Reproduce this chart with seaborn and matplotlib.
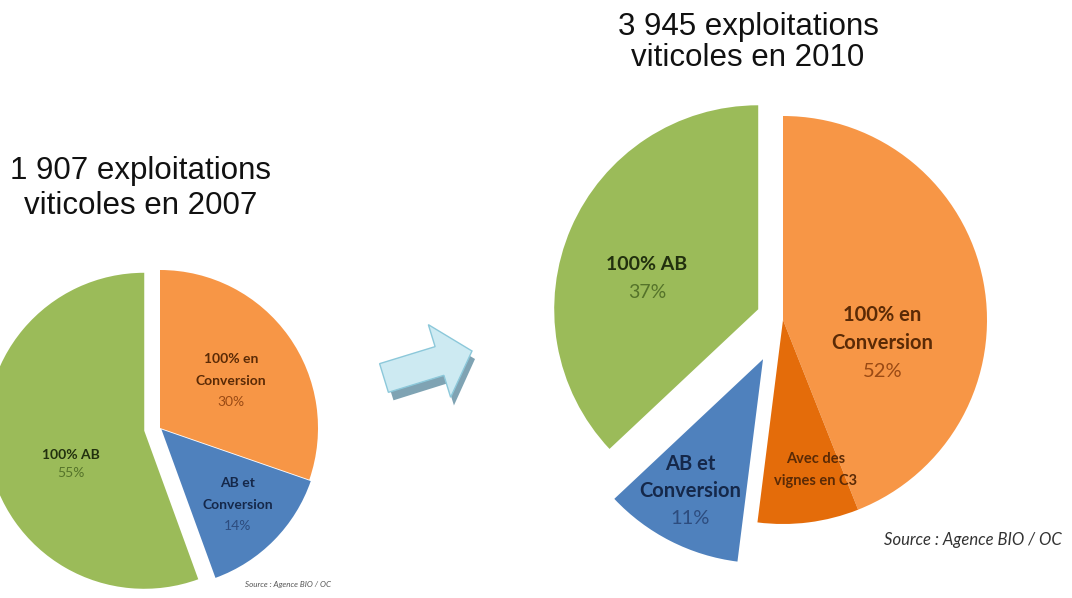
import matplotlib
matplotlib.use("Agg")
import matplotlib.pyplot as plt
import matplotlib.patches as mpatches
import matplotlib.transforms as mtransforms
import seaborn as sns
import numpy as np

# --- données ---
titre_2007 = ["1 907 exploitations", "viticoles en 2007"]
titre_2010 = ["3 945 exploitations", "viticoles en 2010"]
source = "Source : Agence BIO / OC"

# 2007, dans le sens horaire depuis le haut
parts_2007 = [30, 14, 55]
noms_2007 = ["100% en\nConversion", "AB et\nConversion", "100% AB"]
pct_2007 = ["30%", "14%", "55%"]

# 2010 : les 52% "en conversion" incluent la part C3
parts_2010 = [44, 8, 11, 37]
noms_2010 = ["100% en\nConversion", "Avec des\nvignes en C3", "AB et\nConversion", "100% AB"]
pct_2010 = ["52%", "", "11%", "37%"]

VERT, ORANGE, ORANGE_F, BLEU = "#9BBB59", "#F79646", "#E46C0A", "#4F81BD"

sns.set_theme(style="white")
plt.rcParams["font.family"] = ["Lato", "DejaVu Sans"]

W, H = 1072, 598
fig = plt.figure(figsize=(W / 100, H / 100), dpi=100)
ax = fig.add_axes([0, 0, 1, 1])


def y(v):
    # coordonnées image -> axe
    return H - v


def etiquette(ax, x0, y0, nom, pct, lh, fs, c_nom, c_pct):
    lignes = nom.split("\n") + ([pct] if pct else [])
    n = len(lignes)
    for i, l in enumerate(lignes):
        yy = y0 + ((n - 1) / 2 - i) * lh
        est_pct = bool(pct) and i == n - 1
        ax.text(x0, yy, l, ha="center", va="center", fontsize=fs,
                fontweight="normal" if est_pct else "bold",
                color=c_pct if est_pct else c_nom)


def pos(w, frac, decal=0.0):
    a = np.deg2rad((w.theta1 + w.theta2) / 2 + decal)
    cx, cy = w.center
    return cx + frac * w.r * np.cos(a), cy + frac * w.r * np.sin(a)


# --- camembert 2007 ---
w07, _ = ax.pie(parts_2007, colors=[ORANGE, BLEU, VERT], startangle=90,
                counterclock=False, center=(160, y(428)), radius=158,
                explode=[0, 2, 16], frame=True,
                wedgeprops=dict(linewidth=0))
# (couleur nom, couleur %, distance, décalage angulaire, interligne)
styles_07 = [("#5A2A06", "#9A4A14", 0.54, -2, 21.5),
             ("#15284A", "#2D4C7E", 0.68, 0, 21.5),
             ("#22300E", "#55732A", 0.51, 14, 18)]
for w, nom, p, (cn, cp, f, d, lh) in zip(w07, noms_2007, pct_2007, styles_07):
    x0, y0 = pos(w, f, d)
    etiquette(ax, x0, y0, nom, p, lh, 10, cn, cp)

# --- camembert 2010 ---
w10, _ = ax.pie(parts_2010, colors=[ORANGE, ORANGE_F, BLEU, VERT], startangle=90,
                counterclock=False, center=(783, y(320)), radius=204,
                explode=[0, 0, 44, 27], frame=True,
                wedgeprops=dict(linewidth=0))
# étiquette "52%" centrée sur orange + C3
a_mid = (w10[1].theta1 + w10[0].theta2) / 2 - 9.5
a = np.deg2rad(a_mid)
cx, cy = w10[0].center
etiquette(ax, cx + 0.5 * 204 * np.cos(a), cy + 0.5 * 204 * np.sin(a),
          noms_2010[0], pct_2010[0], 28.5, 14.5, "#5A2A06", "#9A4A14")
x0, y0 = pos(w10[1], 0.75, 5)
etiquette(ax, x0, y0, noms_2010[1], "", 22, 10.5, "#5A2A06", "#5A2A06")
x0, y0 = pos(w10[2], 0.74, -2)
etiquette(ax, x0, y0, noms_2010[2], pct_2010[2], 27, 14.5, "#15284A", "#2D4C7E")
x0, y0 = pos(w10[3], 0.565, 8)
etiquette(ax, x0, y0, noms_2010[3], pct_2010[3], 28, 14, "#22300E", "#55732A")

ax.set_xlim(0, W)
ax.set_ylim(0, H)
ax.set_aspect("equal")
ax.axis("off")

# --- titres ---
for (cx, bases), lignes in zip([(141, [179, 214]), (748, [35, 66])], [titre_2007, titre_2010]):
    for b, l in zip(bases, lignes):
        ax.text(cx, y(b), l, ha="center", va="baseline", fontsize=22.5,
                family="Liberation Sans", color="#111111")

# --- sources ---
ax.text(288, y(585), source, ha="center", va="center", fontsize=5.8,
        style="italic", color="#555555")
ax.text(973, y(540), source, ha="center", va="center", fontsize=12,
        style="italic", color="#333333")

# --- flèche ---
ombre = mpatches.FancyArrow(386, y(382), 86, 27, width=30, head_width=76,
                            head_length=34, length_includes_head=True,
                            color="#7FA3B3", linewidth=0)
ombre.set_transform(mtransforms.Affine2D().translate(3, -4) + ax.transData)
ax.add_patch(ombre)
ax.add_patch(mpatches.FancyArrow(384, y(378), 88, 27, width=30, head_width=76,
                                 head_length=34, length_includes_head=True,
                                 facecolor="#CDEAF2", edgecolor="#8CC8DA",
                                 linewidth=1))

fig.savefig("out.png", dpi=100)
